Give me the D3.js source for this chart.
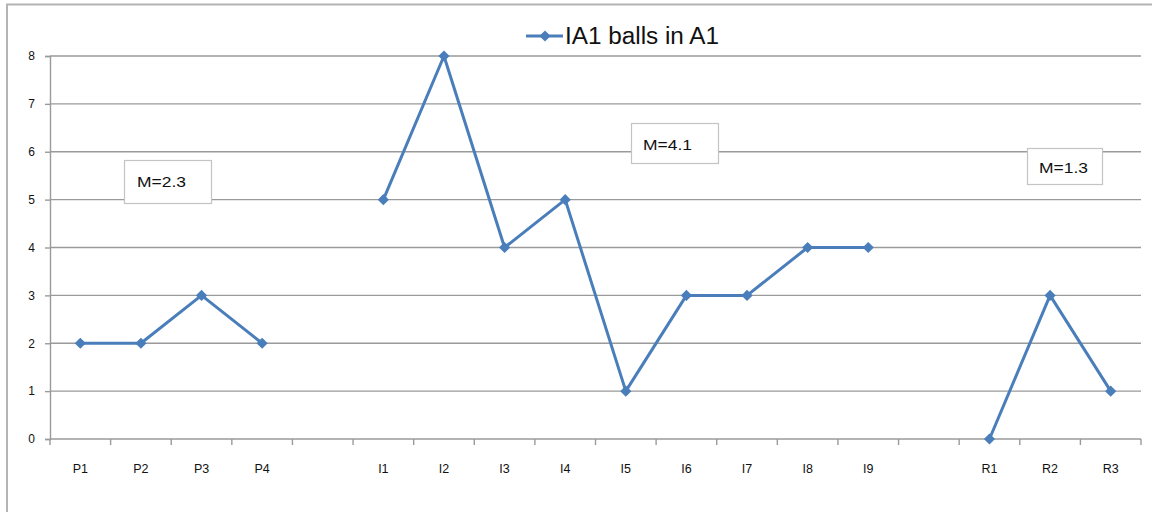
<!DOCTYPE html>
<html>
<head>
<meta charset="utf-8">
<script src="https://cdn.jsdelivr.net/npm/d3@7"></script>
<style>
  html, body { margin: 0; padding: 0; background: #fff; }
  svg { display: block; }
</style>
</head>
<body>
<svg id="chart" width="1152" height="512"></svg>
<script>
// ---- data ----
const categories = ["P1","P2","P3","P4","","I1","I2","I3","I4","I5","I6","I7","I8","I9","","R1","R2","R3"];
const values     = [2, 2, 3, 2, null, 5, 8, 4, 5, 1, 3, 3, 4, 4, null, 0, 3, 1];
const yTicks     = [0, 1, 2, 3, 4, 5, 6, 7, 8];
const seriesName = "IA1 balls in A1";
const meanLabels = ["M=2.3", "M=4.1", "M=1.3"];

// ---- layout ----
const W = 1152, H = 512;
const plot = { left: 50, right: 1141, top: 56, bottom: 439 };
const color = "#4a7ebb";
const gridColor = "#9a9a9a";
const textColor = "#111";
const font = "'Liberation Sans', Arial, sans-serif";

const svg = d3.select("#chart");

// outer chart frame
svg.append("rect")
  .attr("x", 7).attr("y", 4.5).attr("width", 1160).attr("height", 520)
  .attr("fill", "#fff").attr("stroke", "#b4b4b4").attr("stroke-width", 2);

const x = d3.scaleBand().domain(d3.range(categories.length)).range([plot.left, plot.right]);
const y = d3.scaleLinear().domain([0, 8]).range([plot.bottom, plot.top]);
const cx = i => x(i) + x.bandwidth() / 2;

// gridlines
svg.append("g").selectAll("line").data(yTicks.filter(d => d > 0)).join("line")
  .attr("x1", plot.left).attr("x2", plot.right)
  .attr("y1", d => y(d)).attr("y2", d => y(d))
  .attr("stroke", gridColor).attr("stroke-width", 1.4);

// y axis
const yAxis = svg.append("g").attr("transform", `translate(${plot.left},0)`)
  .call(d3.axisLeft(y).tickValues(yTicks).tickSize(5).tickPadding(10).tickFormat(d3.format("d")));
yAxis.select(".domain").attr("stroke", gridColor).attr("stroke-width", 1.4);
yAxis.selectAll(".tick line").attr("stroke", gridColor).attr("stroke-width", 1.4);
yAxis.selectAll("text").attr("font-family", font).attr("font-size", 12).attr("fill", textColor);

// x axis
const xAxisG = svg.append("g").attr("transform", `translate(0,${plot.bottom})`);
xAxisG.append("line").attr("x1", plot.left).attr("x2", plot.right)
  .attr("stroke", gridColor).attr("stroke-width", 1.4);
const boundaries = d3.range(categories.length + 1).map(i => i < categories.length ? x(i) : plot.right);
xAxisG.selectAll("line.tk").data(boundaries).join("line").attr("class", "tk")
  .attr("x1", d => d).attr("x2", d => d).attr("y1", 0).attr("y2", 6)
  .attr("stroke", gridColor).attr("stroke-width", 1.4);
xAxisG.selectAll("text").data(categories).join("text")
  .attr("x", (d, i) => cx(i)).attr("y", 34)
  .attr("text-anchor", "middle")
  .attr("font-family", font).attr("font-size", 12.5).attr("fill", textColor)
  .text(d => d);

// series line
const pts = values.map((v, i) => ({ i, v }));
const line = d3.line().defined(d => d.v != null).x(d => cx(d.i)).y(d => y(d.v));
svg.append("path").datum(pts).attr("d", line)
  .attr("fill", "none").attr("stroke", color).attr("stroke-width", 3).attr("stroke-linejoin", "round");

const diamond = d3.symbol().type(d3.symbolDiamond2).size(80);
svg.append("g").selectAll("path").data(pts.filter(d => d.v != null)).join("path")
  .attr("d", diamond)
  .attr("transform", d => `translate(${cx(d.i)},${y(d.v)})`)
  .attr("fill", color);

// legend
const lg = svg.append("g");
lg.append("line").attr("x1", 526).attr("x2", 563).attr("y1", 36).attr("y2", 36)
  .attr("stroke", color).attr("stroke-width", 3);
lg.append("path").attr("d", diamond).attr("transform", "translate(545,36)").attr("fill", color);
lg.append("text").attr("x", 565).attr("y", 44)
  .attr("font-family", font).attr("font-size", 23).attr("fill", textColor)
  .attr("textLength", 154).attr("lengthAdjust", "spacingAndGlyphs")
  .text(seriesName);

// mean annotation boxes
const boxes = [
  { x: 124, y: 160, w: 87, h: 43, tx: 137, ty: 187 },
  { x: 631, y: 123, w: 87, h: 40, tx: 643, ty: 150 },
  { x: 1027, y: 148, w: 75, h: 36, tx: 1039, ty: 173 }
];
const ag = svg.append("g").selectAll("g").data(meanLabels).join("g");
ag.append("rect")
  .attr("x", (d, i) => boxes[i].x + 0.5).attr("y", (d, i) => boxes[i].y + 0.5)
  .attr("width", (d, i) => boxes[i].w).attr("height", (d, i) => boxes[i].h)
  .attr("fill", "#fff").attr("stroke", "#c4c4c4").attr("stroke-width", 1.2);
ag.append("text")
  .attr("x", (d, i) => boxes[i].tx).attr("y", (d, i) => boxes[i].ty)
  .attr("font-family", font).attr("font-size", 15.5).attr("fill", textColor)
  .attr("textLength", 49).attr("lengthAdjust", "spacingAndGlyphs")
  .text(d => d);
</script>
</body>
</html>
